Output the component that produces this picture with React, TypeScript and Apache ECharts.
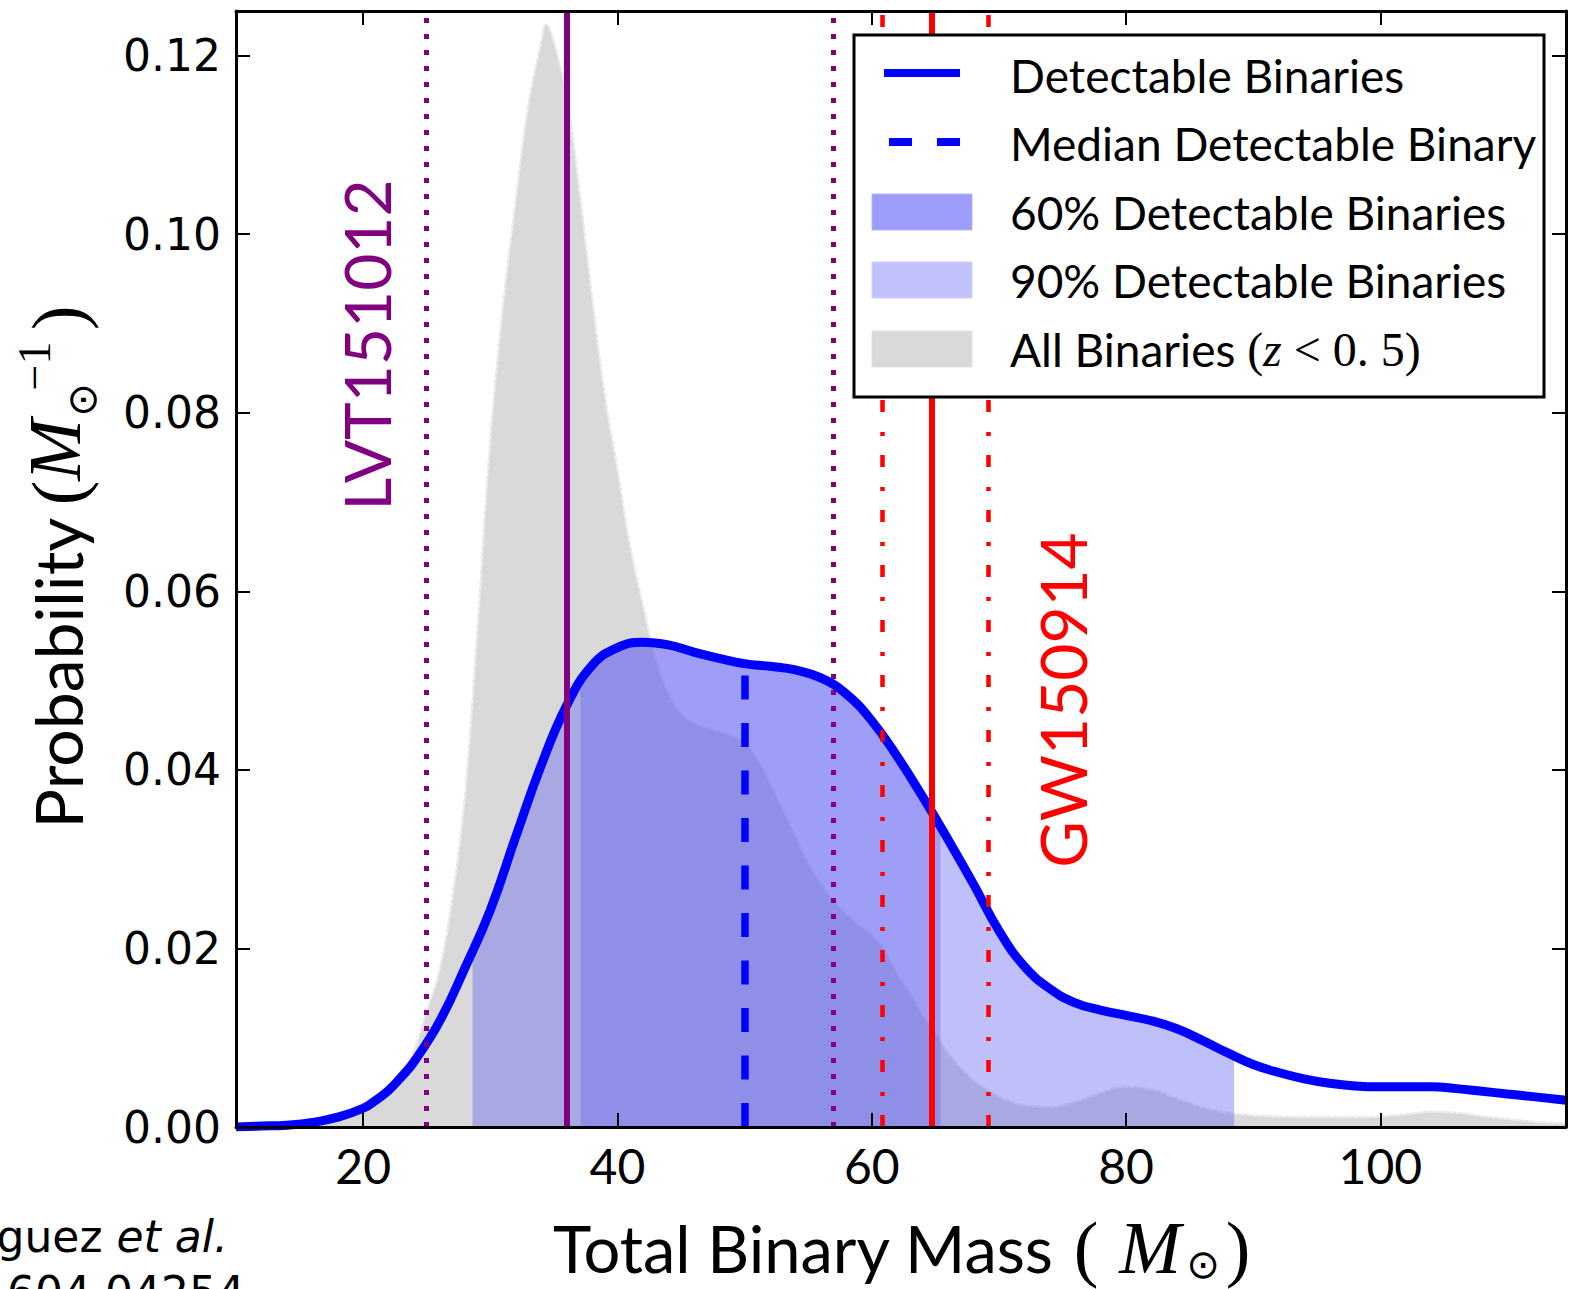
import React, { useEffect, useRef } from "react";
import * as echarts from "echarts";

// ---------- data ----------
const massDetect = [10, 12, 14, 16, 18, 20, 21, 22, 23, 24, 26, 28, 30, 32, 34, 36, 38, 40, 42, 44, 46, 48, 50, 52, 54, 56, 58, 60, 62, 64, 66, 68, 70, 72, 74, 76, 78, 80, 82, 84, 86, 88, 90, 92, 94, 96, 98, 100, 102, 104, 106, 108, 110, 112, 114.6];
const probDetect = [0, 0.0001, 0.0002, 0.0005, 0.0011, 0.0021, 0.003, 0.0041, 0.0056, 0.0073, 0.0118, 0.0178, 0.0243, 0.0325, 0.0405, 0.0472, 0.0517, 0.0537, 0.0543, 0.054, 0.0532, 0.0525, 0.0519, 0.0516, 0.0512, 0.0503, 0.0485, 0.0455, 0.0415, 0.037, 0.0322, 0.0272, 0.022, 0.018, 0.0155, 0.0139, 0.0131, 0.0125, 0.0119, 0.011, 0.0097, 0.0083, 0.007, 0.0061, 0.0054, 0.0049, 0.0046, 0.0045, 0.0045, 0.0045, 0.0043, 0.004, 0.0037, 0.0034, 0.003];

const massAll = [10, 14, 16, 18, 20, 21, 22, 23, 24, 25, 26, 27, 28, 29, 30, 31, 32, 33, 34, 34.4, 35, 36, 37, 38, 39, 40, 41, 42, 43, 44, 45, 46, 47, 48, 49, 50, 51, 52, 53, 54, 55, 56, 57, 58, 59, 60, 61, 62, 63, 64, 65, 66, 67, 68, 69, 70, 72, 74, 76, 78, 80, 82, 84, 86, 88, 90, 94, 98, 102, 104, 106, 108, 112, 114.6];
const probAll = [0, 0.0001, 0.0004, 0.001, 0.0018, 0.003, 0.004, 0.0055, 0.0085, 0.013, 0.0175, 0.0255, 0.037, 0.056, 0.077, 0.092, 0.1038, 0.1145, 0.1215, 0.1235, 0.1215, 0.1155, 0.105, 0.093, 0.082, 0.0737, 0.065, 0.0585, 0.0525, 0.0485, 0.0463, 0.0452, 0.0447, 0.0443, 0.0438, 0.043, 0.0412, 0.0385, 0.0355, 0.0325, 0.0295, 0.0272, 0.0253, 0.0238, 0.0226, 0.0215, 0.0198, 0.0172, 0.015, 0.0125, 0.0105, 0.0083, 0.0066, 0.0052, 0.0042, 0.0034, 0.0024, 0.0022, 0.0028, 0.0038, 0.0045, 0.0042, 0.0032, 0.0022, 0.0016, 0.0013, 0.0011, 0.0011, 0.0014, 0.0017, 0.0016, 0.0012, 0.0006, 0.0004];

// credible bands: edge masses and the curve height read at each edge
const band90 = [28.6, 88.5];
const band90Edge = [0.0196, 0.0079];
const band60 = [37.1, 65.4];
const band60Edge = [0.05, 0.0338];
const medianMass = 50;
const lvtMasses = [25, 36, 57]; // low, median, high
const gwMasses = [60.8, 64.7, 69.2];

const xTicks = [20, 40, 60, 80, 100];
const yTicks = [0, 0.02, 0.04, 0.06, 0.08, 0.1, 0.12];
const xRange = [10, 114.6];
const yRange = [0, 0.125];

const legendLabels = [
  "Detectable Binaries",
  "Median Detectable Binary",
  "60% Detectable Binaries",
  "90% Detectable Binaries",
  "All Binaries ",
];
const eventNames = ["LVT151012", "GW150914"];
const xTitle = "Total Binary Mass";
const yTitle = "Probability";
const credit = ["Rodriguez ", "et al.", "arXiv:1604.04254"];

// ---------- styling ----------
const BLUE = "#0000ff";
const PURPLE = "#800080";
const RED = "#ff0000";
const SANS = "Lato";
const SERIF = "Liberation Serif";
const SMOOTH = 0.45;

const detectPairs = massDetect.map((m, i) => [m, probDetect[i]]);
const allPairs = massAll.map((m, i) => [m, probAll[i]]);
const bandData = (r: number[], edge: number[]) => [
  [r[0], edge[0]],
  ...detectPairs.filter((p) => p[0] > r[0] && p[0] < r[1]),
  [r[1], edge[1]],
];
const medianValue = probDetect[massDetect.indexOf(medianMass)];

export default function App() {
  const ref = useRef<HTMLDivElement>(null);

  useEffect(() => {
    if (!ref.current) return;
    const chart = echarts.init(ref.current, undefined, { renderer: "svg" });

    const axisCommon = {
      type: "value" as const,
      z: 10,
      axisLine: { show: true, onZero: false, lineStyle: { color: "#000", width: 3 } },
      splitLine: { show: false },
    };

    const vline = (x: number, color: string, width: number, type: any) => ({
      xAxis: x,
      lineStyle: { color, width, type, cap: "butt" },
    });

    const legendRowsText = [75, 143, 212, 280, 349];
    const legendRowsSample = [73, 142, 212, 280, 349];
    const legendX = 1010;
    const LFS = 46;
    const paren = (x: number, y: number, t: string, rot = 0) => ({
      type: "text",
      x,
      y,
      rotation: rot,
      style: { text: t, fontFamily: SERIF, fontSize: 74, lineHeight: 72, fill: "#000", align: "center", verticalAlign: "middle" },
    });

    const graphic: any[] = [
      // legend box
      {
        type: "rect",
        z: 100,
        shape: { x: 854, y: 35, width: 690, height: 362 },
        style: { fill: "#fff", stroke: "#000", lineWidth: 3 },
      },
      {
        type: "line",
        z: 101,
        shape: { x1: 884, y1: legendRowsSample[0], x2: 960, y2: legendRowsSample[0] },
        style: { stroke: BLUE, lineWidth: 8 },
      },
      {
        type: "line",
        z: 101,
        shape: { x1: 889, y1: legendRowsSample[1], x2: 960, y2: legendRowsSample[1] },
        style: { stroke: BLUE, lineWidth: 8, lineDash: [23, 25] },
      },
      {
        type: "rect",
        z: 101,
        shape: { x: 872, y: legendRowsSample[2] - 18, width: 100, height: 36 },
        style: { fill: "#9c9cfa", stroke: "#b4b4fb", lineWidth: 1 },
      },
      {
        type: "rect",
        z: 101,
        shape: { x: 872, y: legendRowsSample[3] - 18, width: 100, height: 36 },
        style: { fill: "#c1c1fb", stroke: "#cfcffc", lineWidth: 1 },
      },
      {
        type: "rect",
        z: 101,
        shape: { x: 872, y: legendRowsSample[4] - 18, width: 100, height: 36 },
        style: { fill: "#d9d9d9", stroke: "#e2e2e2", lineWidth: 1 },
      },
      ...legendLabels.slice(0, 4).map((t, i) => ({
        type: "text",
        z: 101,
        x: legendX,
        y: legendRowsText[i],
        style: { text: t, fontFamily: SANS, fontSize: LFS, fill: "#000", align: "left", verticalAlign: "middle" },
      })),
      {
        type: "text",
        z: 101,
        x: legendX,
        y: legendRowsText[4],
        style: {
          text: `{a|${legendLabels[4]}}{m|(}{i|z}{m| < 0. 5)}`,
          align: "left",
          verticalAlign: "middle",
          fill: "#000",
          rich: {
            a: { fontFamily: SANS, fontSize: LFS, fill: "#000" },
            m: { fontFamily: SERIF, fontSize: 48, fill: "#000" },
            i: { fontFamily: SERIF, fontStyle: "italic", fontSize: 48, fill: "#000" },
          },
        },
      },
      // event labels
      {
        type: "text",
        z: 50,
        x: 366,
        y: 345,
        rotation: Math.PI / 2,
        style: { text: eventNames[0], fontFamily: SANS, fontSize: 64, fill: PURPLE, align: "center", verticalAlign: "middle" },
      },
      {
        type: "text",
        z: 50,
        x: 1062,
        y: 700,
        rotation: Math.PI / 2,
        style: { text: eventNames[1], fontFamily: SANS, fontSize: 64, fill: RED, align: "center", verticalAlign: "middle" },
      },
      // x axis title
      {
        type: "text",
        x: 553,
        y: 1248,
        style: { text: xTitle, fontFamily: SANS, fontSize: 65, fill: "#000", align: "left", verticalAlign: "middle" },
      },
      paren(1086, 1248, "("),
      { type: "text", x: 1150, y: 1248, style: { text: "M", fontFamily: SERIF, fontStyle: "italic", fontSize: 74, lineHeight: 72, fill: "#000", align: "center", verticalAlign: "middle" } },
      { type: "text", x: 1203, y: 1264, style: { text: "\u2299", fontFamily: "DejaVu Sans", fontSize: 40, lineHeight: 40, fill: "#000", align: "center", verticalAlign: "middle" } },
      paren(1238, 1248, ")"),
      // y axis title (rotated)
      {
        type: "text",
        x: 57,
        y: 673,
        rotation: Math.PI / 2,
        style: { text: yTitle, fontFamily: SANS, fontSize: 66, fill: "#000", align: "center", verticalAlign: "middle" },
      },
      paren(58, 493, "(", Math.PI / 2),
      { type: "text", x: 55, y: 450, rotation: Math.PI / 2, style: { text: "M", fontFamily: SERIF, fontStyle: "italic", fontSize: 74, fill: "#000", align: "center", verticalAlign: "middle" } },
      { type: "text", x: 82, y: 400, rotation: Math.PI / 2, style: { text: "\u2299", fontFamily: "DejaVu Sans", fontSize: 40, fill: "#000", align: "center", verticalAlign: "middle" } },
      { type: "text", x: 34, y: 366, rotation: Math.PI / 2, style: { text: "\u22121", fontFamily: SERIF, fontSize: 46, fill: "#000", align: "center", verticalAlign: "middle" } },
      paren(58, 318, ")", Math.PI / 2),
      // credit
      {
        type: "text",
        x: 228,
        y: 1236,
        style: {
          text: `{n|${credit[0]}}{i|${credit[1]}}`,
          align: "right",
          verticalAlign: "middle",
          rich: {
            n: { fontFamily: "DejaVu Sans", fontSize: 44, fill: "#000" },
            i: { fontFamily: "DejaVu Sans", fontStyle: "italic", fontSize: 44, fill: "#000" },
          },
        },
      },
      {
        type: "text",
        x: 245,
        y: 1292,
        style: { text: credit[2], fontFamily: "DejaVu Sans", fontSize: 44, fill: "#000", align: "right", verticalAlign: "middle" },
      },
    ];

    const option: any = {
      animation: false,
      backgroundColor: "#fff",
      grid: { left: 236, top: 11, width: 1330, height: 1116, containLabel: false, outerBoundsMode: "none" },
      xAxis: [
        {
          ...axisCommon,
          position: "bottom",
          min: xRange[0],
          max: xRange[1],
          axisTick: { show: true, inside: true, length: 14, customValues: xTicks, lineStyle: { color: "#000", width: 2 } },
          axisLabel: { show: true, customValues: xTicks, fontFamily: SANS, fontSize: 48, color: "#000", margin: 14 },
        },
        {
          ...axisCommon,
          position: "top",
          min: xRange[0],
          max: xRange[1],
          axisTick: { show: true, inside: true, length: 14, customValues: xTicks, lineStyle: { color: "#000", width: 2 } },
          axisLabel: { show: false },
        },
      ],
      yAxis: [
        {
          ...axisCommon,
          position: "left",
          min: yRange[0],
          max: yRange[1],
          axisTick: { show: true, inside: true, length: 14, customValues: yTicks, lineStyle: { color: "#000", width: 2 } },
          axisLabel: {
            show: true,
            customValues: yTicks,
            fontFamily: "DejaVu Sans",
            fontSize: 44,
            color: "#000",
            margin: 15,
            formatter: (v: number) => v.toFixed(2),
          },
        },
        {
          ...axisCommon,
          position: "right",
          min: yRange[0],
          max: yRange[1],
          axisTick: { show: true, inside: true, length: 14, customValues: yTicks, lineStyle: { color: "#000", width: 2 } },
          axisLabel: { show: false },
        },
      ],
      series: [
        {
          name: "All Binaries",
          type: "line",
          data: allPairs,
          smooth: SMOOTH,
          symbol: "none",
          z: 1,
          lineStyle: { color: "#e6e6e6", width: 2 },
          areaStyle: { color: "#d9d9d9", opacity: 1 },
        },
        {
          name: "All edge",
          type: "line",
          data: allPairs,
          smooth: SMOOTH,
          symbol: "none",
          z: 1,
          lineStyle: { color: "rgba(255,255,255,0.7)", width: 1, type: [3, 3] },
        },
        {
          name: "90%",
          type: "line",
          data: bandData(band90, band90Edge),
          smooth: SMOOTH,
          symbol: "none",
          z: 2,
          lineStyle: { width: 0 },
          areaStyle: { color: "rgb(96,96,242)", opacity: 0.4 },
        },
        {
          name: "60%",
          type: "line",
          data: bandData(band60, band60Edge),
          smooth: SMOOTH,
          symbol: "none",
          z: 3,
          lineStyle: { width: 0 },
          areaStyle: { color: "rgb(96,96,242)", opacity: 0.35 },
        },
        {
          name: "Detectable Binaries",
          type: "line",
          data: detectPairs,
          smooth: SMOOTH,
          symbol: "none",
          z: 4,
          lineStyle: { color: BLUE, width: 9 },
        },
        {
          name: "markers",
          type: "line",
          data: [],
          z: 6,
          markLine: {
            silent: true,
            symbol: ["none", "none"],
            label: { show: false },
            animation: false,
            data: [
              vline(lvtMasses[0], PURPLE, 5, [5, 11]),
              vline(lvtMasses[2], PURPLE, 5, [5, 11]),
              vline(lvtMasses[1], PURPLE, 6, "solid"),
              vline(gwMasses[0], RED, 4.5, [12, 19, 4, 20]),
              vline(gwMasses[2], RED, 4.5, [12, 19, 4, 20]),
              vline(gwMasses[1], RED, 6, "solid"),
              [
                { coord: [medianMass, 0], lineStyle: { color: BLUE, width: 7.5, type: [24, 23.5], cap: "butt" } },
                { coord: [medianMass, medianValue] },
              ],
            ],
          },
        },
      ],
      graphic,
    };

    chart.setOption(option);
    return () => chart.dispose();
  }, []);

  return (
    <div
      ref={ref}
      style={{ position: "fixed", left: 0, top: 0, width: 1569, height: 1289, background: "#fff" }}
    />
  );
}
